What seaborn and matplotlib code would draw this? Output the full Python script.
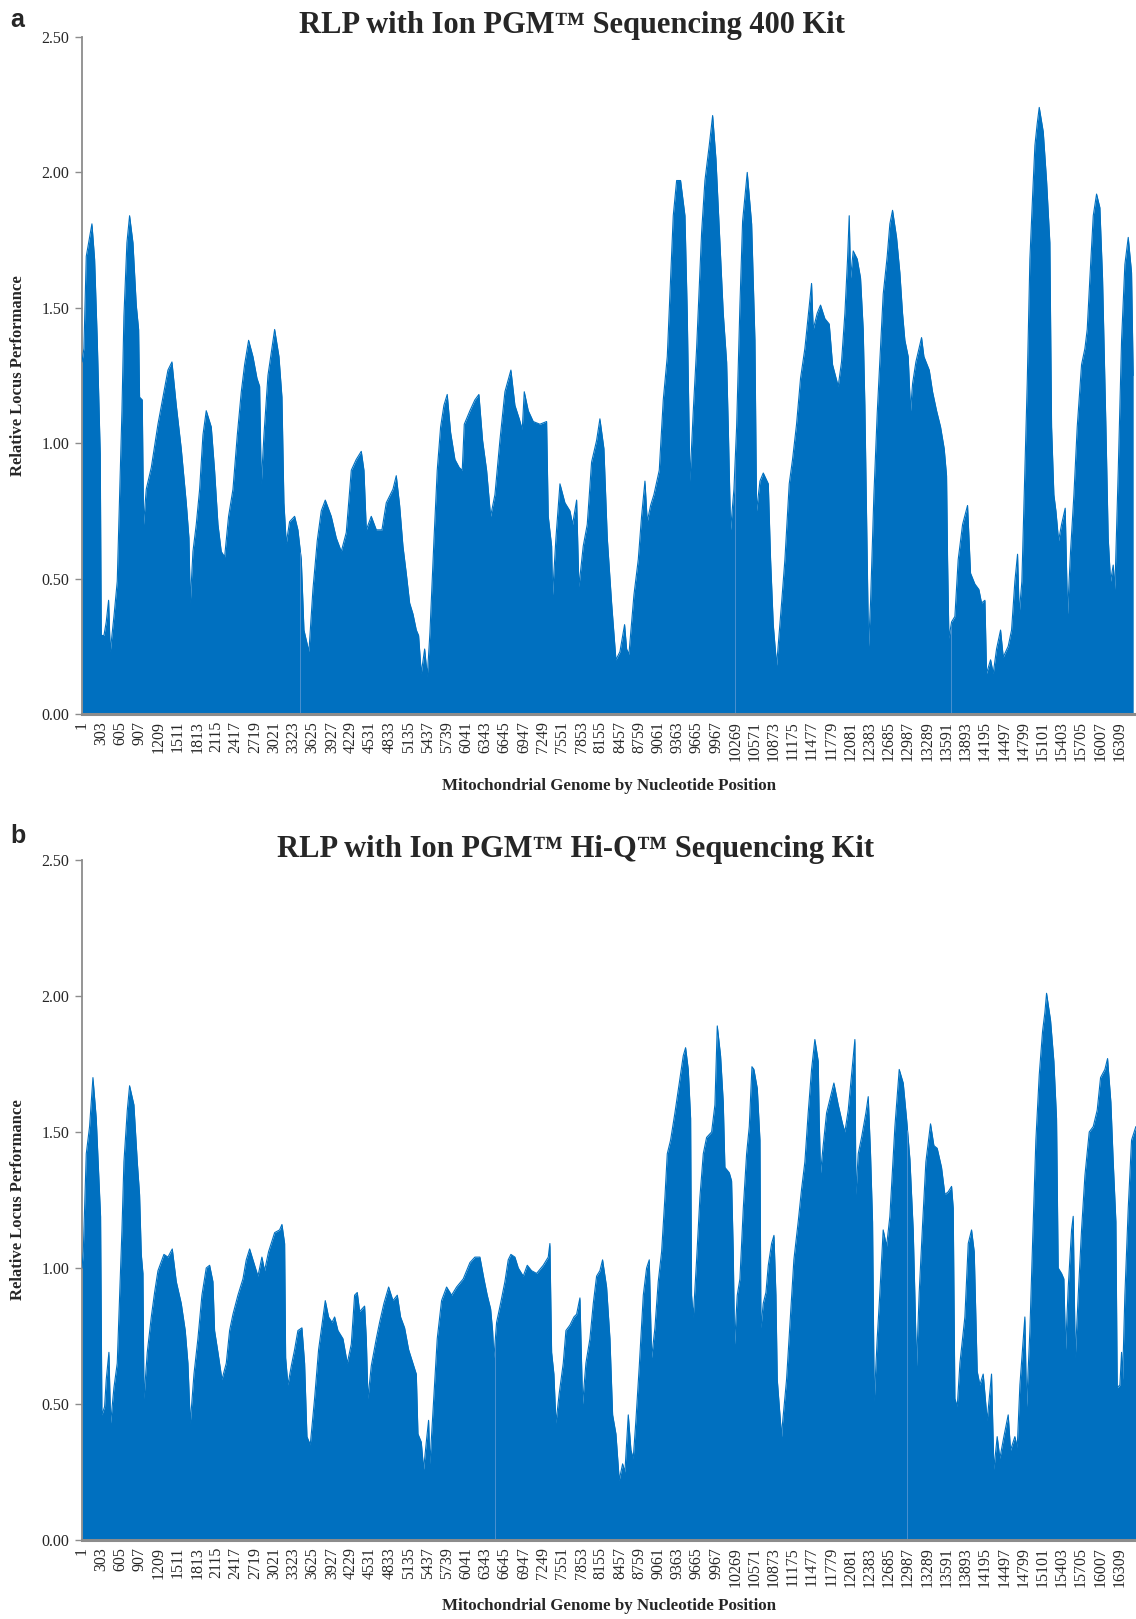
import numpy as np
import pandas as pd
import matplotlib
matplotlib.use("Agg")
import matplotlib.pyplot as plt
import seaborn as sns

# ---------------- data ----------------
# Panel a: RLP with Ion PGM Sequencing 400 Kit  (nucleotide position, relative locus performance)
pos_a = [1, 31, 68, 120, 157, 199, 241, 288, 304, 346, 382, 419, 445, 503, 555, 592, 629, 660, 707, 749,
         802, 854, 891, 906, 948, 969, 1011, 1090, 1195, 1273, 1352, 1415, 1483, 1561, 1640, 1682, 1703, 1745,
         1797, 1850, 1902, 1954, 2033, 2085, 2138, 2190, 2243, 2305, 2374, 2442, 2505, 2557, 2620, 2688, 2751,
         2793, 2819, 2861, 2924, 3029, 3097, 3144, 3175, 3212, 3264, 3343, 3395, 3448, 3490, 3568, 3631, 3699,
         3762, 3825, 3919, 3998, 4077, 4155, 4234, 4312, 4391, 4433, 4470, 4548, 4627, 4716, 4784, 4889, 4941,
         4994, 5046, 5098, 5151, 5203, 5256, 5292, 5334, 5387, 5429, 5470, 5533,
         5585, 5638, 5690, 5742, 5795, 5863, 5931, 5978, 6010, 6099, 6177, 6240, 6298, 6361, 6424, 6492, 6570,
         6649, 6743, 6806, 6874, 6921, 6953, 7016, 7094, 7199, 7304, 7330, 7383, 7398, 7451, 7514, 7592, 7671,
         7713, 7776, 7812, 7880, 7943, 8011, 8090, 8142, 8205, 8258, 8326, 8394, 8457, 8530, 8562, 8598, 8677,
         8745, 8797, 8850, 8886, 8939, 8991, 9075, 9138, 9201, 9243, 9295, 9348, 9410, 9479, 9515, 9557, 9610,
         9662, 9741, 9793, 9861, 9914, 9966, 10029, 10081, 10134, 10160, 10196, 10249, 10291, 10343, 10385,
         10458, 10527, 10579, 10605, 10658, 10710, 10789, 10825, 10867, 10920, 10998,
         11050, 11118, 11170, 11233, 11296, 11364, 11416, 11469, 11495, 11558, 11610, 11678, 11747, 11799,
         11888, 11940, 11993, 12035, 12061, 12082, 12124, 12187, 12239, 12281, 12307, 12344, 12365, 12396,
         12449, 12501, 12553, 12595, 12658, 12700, 12742, 12805, 12857, 12899, 12936, 12988, 13025, 13057,
         13109, 13198, 13235, 13319, 13371, 13434, 13497, 13554, 13591, 13607, 13628, 13670, 13722, 13774,
         13843, 13921, 13968, 14036, 14099, 14141, 14194, 14220, 14283, 14325, 14377, 14440, 14482, 14560,
         14613, 14665, 14707, 14733, 14775, 14822, 14859, 14901, 14943, 14980, 15016, 15048, 15111, 15163,
         15215, 15242, 15278, 15310, 15352, 15399, 15456, 15493, 15540, 15593, 15645, 15713, 15766, 15802,
         15844, 15897, 15949, 16001, 16043, 16096, 16132, 16169, 16211, 16237, 16290, 16342, 16394, 16447,
         16499, 16525]
rlp_a = [1.30, 1.35, 1.69, 1.76, 1.81, 1.68, 1.38, 0.96, 0.29, 0.29, 0.34, 0.42, 0.23, 0.36, 0.49, 0.81, 1.12, 1.47, 1.74, 1.84,
         1.74, 1.51, 1.42, 1.17, 1.16, 0.70, 0.83, 0.91, 1.07, 1.17, 1.27, 1.30, 1.14, 0.98, 0.78, 0.65, 0.41, 0.60,
         0.70, 0.83, 1.03, 1.12, 1.06, 0.90, 0.70, 0.60, 0.58, 0.73, 0.83, 1.03, 1.19, 1.29, 1.38, 1.32, 1.24,
         1.21, 0.85, 1.03, 1.25, 1.42, 1.32, 1.17, 0.78, 0.63, 0.71, 0.73, 0.68, 0.57, 0.31, 0.23, 0.46, 0.64,
         0.75, 0.79, 0.73, 0.65, 0.60, 0.67, 0.90, 0.94, 0.97, 0.90, 0.68, 0.73, 0.68, 0.68, 0.78, 0.83, 0.88,
         0.77, 0.62, 0.52, 0.41, 0.37, 0.31, 0.29, 0.15, 0.24, 0.14, 0.30, 0.64,
         0.90, 1.06, 1.14, 1.18, 1.04, 0.94, 0.91, 0.90, 1.07, 1.12, 1.16, 1.18, 1.01, 0.90, 0.73, 0.81, 1.01,
         1.19, 1.27, 1.14, 1.09, 1.05, 1.19, 1.12, 1.08, 1.07, 1.08, 0.73, 0.62, 0.44, 0.65, 0.85, 0.78, 0.75,
         0.70, 0.79, 0.47, 0.62, 0.70, 0.93, 1.01, 1.09, 0.98, 0.65, 0.41, 0.20, 0.23, 0.33, 0.24, 0.22, 0.44,
         0.57, 0.73, 0.86, 0.71, 0.77, 0.81, 0.90, 1.16, 1.32, 1.55, 1.84, 1.97, 1.97, 1.84, 1.48, 0.86, 1.12,
         1.35, 1.78, 1.97, 2.10, 2.21, 2.05, 1.74, 1.48, 1.30, 1.06, 0.68, 0.83, 1.06, 1.51, 1.82,
         2.00, 1.81, 1.38, 0.75, 0.86, 0.89, 0.85, 0.57, 0.33, 0.18, 0.41,
         0.57, 0.85, 0.94, 1.07, 1.24, 1.35, 1.47, 1.59, 1.42, 1.48, 1.51, 1.46, 1.44, 1.29,
         1.21, 1.30, 1.48, 1.68, 1.84, 1.61, 1.71, 1.68, 1.61, 1.42, 1.14, 0.57, 0.25, 0.41,
         0.81, 1.11, 1.35, 1.55, 1.69, 1.81, 1.86, 1.76, 1.63, 1.48, 1.38, 1.32, 1.12, 1.22,
         1.30, 1.39, 1.32, 1.27, 1.19, 1.12, 1.06, 0.98, 0.88, 0.57, 0.28, 0.34, 0.36, 0.57,
         0.70, 0.77, 0.52, 0.48, 0.46, 0.41, 0.42, 0.15, 0.20, 0.15, 0.24, 0.31, 0.21, 0.25,
         0.31, 0.49, 0.59, 0.37, 0.49, 0.90, 1.22, 1.68, 1.91, 2.10, 2.18, 2.24, 2.15, 1.97,
         1.74, 1.06, 0.81, 0.75, 0.64, 0.70, 0.76, 0.37, 0.60, 0.81, 1.06, 1.29, 1.35, 1.42,
         1.61, 1.84, 1.92, 1.87, 1.61, 1.06, 0.65, 0.49, 0.55, 0.46, 0.90, 1.38, 1.66, 1.76,
         1.63, 1.25]

# Panel b: RLP with Ion PGM Hi-Q Sequencing Kit
pos_b = [1, 21, 68, 120, 173, 225, 262, 293, 314, 356, 382, 424, 451, 503, 555, 592, 629, 660, 713, 749,
         817, 870, 906, 933, 959, 975, 1027, 1090, 1142, 1195, 1289, 1352, 1420, 1483, 1561, 1624, 1666, 1703,
         1761, 1823, 1886, 1954, 2007, 2059, 2085, 2138, 2201, 2269, 2321, 2374, 2452, 2531, 2583, 2636, 2714,
         2767, 2829, 2871, 2934, 3029, 3107, 3144, 3186, 3202, 3238, 3291, 3343, 3395, 3458, 3500, 3537, 3589,
         3657, 3720, 3778, 3825, 3877, 3930, 3972, 4024, 4103, 4171, 4234, 4286, 4328, 4365, 4443, 4470, 4496,
         4548, 4627, 4679, 4747, 4821, 4889, 4957, 5009, 5072, 5135, 5203, 5256, 5282, 5334, 5371, 5413, 5449,
         5470, 5522, 5585, 5653, 5732, 5811, 5889, 5994, 6099, 6177, 6256, 6319, 6371, 6424, 6455, 6476, 6518,
         6581, 6649, 6701, 6743, 6806, 6859, 6937, 7000, 7068, 7147, 7252, 7330, 7356, 7383, 7419, 7451, 7503,
         7566, 7608, 7671, 7734, 7776, 7828, 7870, 7922, 7985, 8038, 8090, 8142, 8184, 8247, 8300, 8342, 8394,
         8446, 8499, 8535, 8588, 8630, 8666, 8708, 8761, 8824, 8876, 8918, 8955, 9007, 9059, 9112, 9164, 9201,
         9253, 9321, 9390, 9452, 9489, 9531, 9568, 9583, 9610, 9662, 9714, 9767, 9819, 9898, 9950, 9987, 10039,
         10081, 10107, 10176, 10212, 10238, 10259, 10301, 10343, 10396, 10448, 10490, 10532, 10563, 10616,
         10658, 10673, 10710, 10752, 10789, 10841, 10878, 10909, 10930, 10998,
         11013, 11076, 11139, 11191, 11259, 11312, 11364, 11416, 11469, 11521, 11574, 11589, 11610, 11652,
         11705, 11757, 11820, 11888, 11956, 11993, 12045, 12098, 12150, 12166, 12203, 12255, 12323, 12360,
         12396, 12428, 12454, 12501, 12543, 12595, 12648, 12700, 12779, 12847, 12910, 12962, 13015, 13067,
         13093, 13119, 13161, 13214, 13266, 13339, 13392, 13444, 13512, 13565, 13617, 13670, 13696, 13722,
         13759, 13801, 13843, 13879, 13932, 13984, 14026, 14052, 14073, 14115, 14167, 14230, 14298, 14335,
         14387, 14429, 14492, 14560, 14597, 14665, 14702, 14744, 14822, 14849, 14901, 14943, 14995, 15048,
         15100, 15137, 15163, 15226, 15278, 15320, 15346, 15399, 15435, 15462, 15504, 15556, 15582, 15614,
         15661, 15713, 15766, 15834, 15897, 15959, 16012, 16080, 16122, 16174, 16211, 16253, 16274, 16316,
         16342, 16358, 16394, 16447, 16499, 16567]
rlp_b = [1.00, 1.06, 1.42, 1.52, 1.70, 1.55, 1.35, 1.19, 0.46, 0.49, 0.59, 0.69, 0.43, 0.56, 0.65, 0.90, 1.14, 1.39, 1.58, 1.67,
         1.60, 1.39, 1.27, 1.05, 0.98, 0.52, 0.69, 0.82, 0.91, 0.99, 1.05, 1.04, 1.07, 0.95, 0.87, 0.77, 0.65, 0.43,
         0.61, 0.74, 0.90, 1.00, 1.01, 0.95, 0.77, 0.69, 0.59, 0.65, 0.77, 0.83, 0.90, 0.96, 1.03, 1.07, 1.01,
         0.97, 1.04, 0.99, 1.06, 1.13, 1.14, 1.16, 1.09, 0.67, 0.57, 0.64, 0.70, 0.77, 0.78, 0.65, 0.38, 0.35,
         0.52, 0.70, 0.80, 0.88, 0.82, 0.80, 0.82, 0.77, 0.74, 0.65, 0.72, 0.90, 0.91, 0.84, 0.86, 0.74, 0.52,
         0.64, 0.74, 0.80, 0.87, 0.93, 0.88, 0.90, 0.82, 0.78, 0.70, 0.65, 0.61, 0.39, 0.36, 0.26, 0.36, 0.44,
         0.28, 0.49, 0.74, 0.88, 0.93, 0.90, 0.93, 0.96, 1.02, 1.04, 1.04, 0.96, 0.90, 0.85, 0.77, 0.67, 0.80,
         0.87, 0.95, 1.03, 1.05, 1.04, 1.00, 0.97, 1.01, 0.99, 0.98, 1.01, 1.04, 1.09, 0.69, 0.61, 0.43, 0.54,
         0.65, 0.77, 0.79, 0.82, 0.83, 0.89, 0.50, 0.65, 0.74, 0.87, 0.97, 0.99, 1.03, 0.93, 0.74, 0.46, 0.39,
         0.22, 0.28, 0.25, 0.46, 0.33, 0.30, 0.44, 0.64, 0.90, 1.00, 1.03, 0.67, 0.78, 0.95, 1.06, 1.26, 1.42,
         1.47, 1.57, 1.68, 1.78, 1.81, 1.73, 1.55, 0.90, 0.82, 1.03, 1.26, 1.42, 1.48, 1.50, 1.60, 1.89, 1.78,
         1.61, 1.37, 1.35, 1.32, 1.06, 0.72, 0.90, 0.96, 1.22, 1.42, 1.52, 1.74, 1.73, 1.66,
         1.47, 0.78, 0.87, 0.91, 1.01, 1.09, 1.12, 0.90, 0.59, 0.38,
         0.43, 0.59, 0.83, 1.03, 1.17, 1.29, 1.39, 1.57, 1.73, 1.84, 1.76, 1.55, 1.35, 1.45,
         1.57, 1.62, 1.68, 1.60, 1.53, 1.50, 1.58, 1.71, 1.84, 1.27, 1.42, 1.48, 1.57, 1.63,
         1.42, 1.17, 0.51, 0.74, 0.91, 1.14, 1.08, 1.19, 1.52, 1.73, 1.68, 1.55, 1.40, 1.14,
         0.90, 0.64, 0.91, 1.16, 1.39, 1.53, 1.45, 1.44, 1.37, 1.27, 1.28, 1.30, 1.22, 0.52,
         0.49, 0.65, 0.74, 0.82, 1.09, 1.14, 1.06, 0.82, 0.62, 0.57, 0.61, 0.44, 0.61, 0.26,
         0.38, 0.30, 0.38, 0.46, 0.33, 0.38, 0.34, 0.57, 0.82, 0.49, 0.77, 1.09, 1.47, 1.71,
         1.87, 1.94, 2.01, 1.91, 1.76, 1.55, 1.00, 0.98, 0.96, 0.70, 0.93, 1.14, 1.19, 0.67,
         0.90, 1.14, 1.34, 1.50, 1.52, 1.58, 1.70, 1.73, 1.77, 1.61, 1.39, 1.17, 0.56, 0.57,
         0.69, 0.59, 0.90, 1.22, 1.47, 1.52]

# faint segment boundaries visible inside the filled areas
breaks_a = [3429, 10268, 13665]
breaks_b = [6495, 12973]

tick_labels = list(range(1, 16569, 302))   # 1, 303, 605, ... 16309
y_ticks = [0.0, 0.5, 1.0, 1.5, 2.0, 2.5]

titles = ["RLP with Ion PGM\u2122 Sequencing 400 Kit",
          "RLP with Ion PGM\u2122 Hi-Q\u2122 Sequencing Kit"]
panel_letters = ["a", "b"]
xlabel = "Mitochondrial Genome by Nucleotide Position"
ylabel = "Relative Locus Performance"

# ---------------- plotting ----------------
sns.set_theme(style="white")
plt.rcParams["font.family"] = ["Liberation Serif", "DejaVu Serif"]

BLUE = "#0070c0"
GREY = "#8c8c8c"
W, H = 1136, 1619
fig = plt.figure(figsize=(W / 100, H / 100), dpi=100)

def px_rect(left, top, right, bottom):
    return [left / W, 1 - bottom / H, (right - left) / W, (bottom - top) / H]

axes_specs = [px_rect(82, 37, 1136, 714), px_rect(82, 860, 1136, 1540)]
datasets = [(pos_a, rlp_a, breaks_a), (pos_b, rlp_b, breaks_b)]
title_y = [26, 849]
title_x = [572, 576]
letter_y = [20, 836]
xlabel_y = [786, 1606]

for i, (rect, (pos, rlp, brks)) in enumerate(zip(axes_specs, datasets)):
    n = min(len(pos), len(rlp))
    ax = fig.add_axes(rect)
    df = pd.DataFrame({"pos": pos[:n], "rlp": rlp[:n]})
    ax.fill_between(df["pos"], 0, df["rlp"], color=BLUE, linewidth=0, zorder=2)
    sns.lineplot(data=df, x="pos", y="rlp", ax=ax, color=BLUE, linewidth=0.8,
                 sort=True, estimator=None, zorder=3)
    # faint boundary lines, only inside the filled area
    tops = np.interp(brks, df["pos"], df["rlp"])
    ax.vlines(brks, 0, tops - 0.01, color="#4a90d0", linewidth=0.7, zorder=4)

    ax.set_xlim(1, 16569)
    ax.set_ylim(0, 2.5)
    ax.set_xticks(tick_labels)
    ax.set_xticklabels([str(t) for t in tick_labels], rotation=90, fontsize=11.5)
    ax.set_yticks(y_ticks)
    ax.set_yticklabels([f"{v:.2f}" for v in y_ticks], fontsize=11.5)
    ax.tick_params(axis="x", length=0, pad=5)
    ax.tick_params(axis="y", length=5, width=1, color=GREY, pad=4, left=True)
    ax.set_xlabel("")
    ax.set_ylabel("")
    for s in ["top", "right"]:
        ax.spines[s].set_visible(False)
    ax.spines["left"].set_color(GREY)
    ax.spines["left"].set_linewidth(1.3)
    ax.spines["bottom"].set_color(GREY)
    ax.spines["bottom"].set_linewidth(2.2)
    ax.spines["bottom"].set_zorder(5)
    ax.grid(False)

    top_px = 37 if i == 0 else 860
    bot_px = 714 if i == 0 else 1540
    fig.text(title_x[i] / W, 1 - title_y[i] / H, titles[i], ha="center", va="center",
             fontsize=22, fontweight="bold")
    fig.text(10 / W, 1 - letter_y[i] / H, panel_letters[i], ha="left", va="center",
             fontsize=18, fontweight="bold", family=["Liberation Sans", "DejaVu Sans"])
    fig.text(18 / W, 1 - ((top_px + bot_px) / 2) / H, ylabel, ha="center", va="center",
             rotation=90, fontsize=12, fontweight="bold")
    fig.text(609 / W, 1 - xlabel_y[i] / H, xlabel, ha="center", va="center",
             fontsize=12.2, fontweight="bold")

fig.savefig("out.png", dpi=100)
